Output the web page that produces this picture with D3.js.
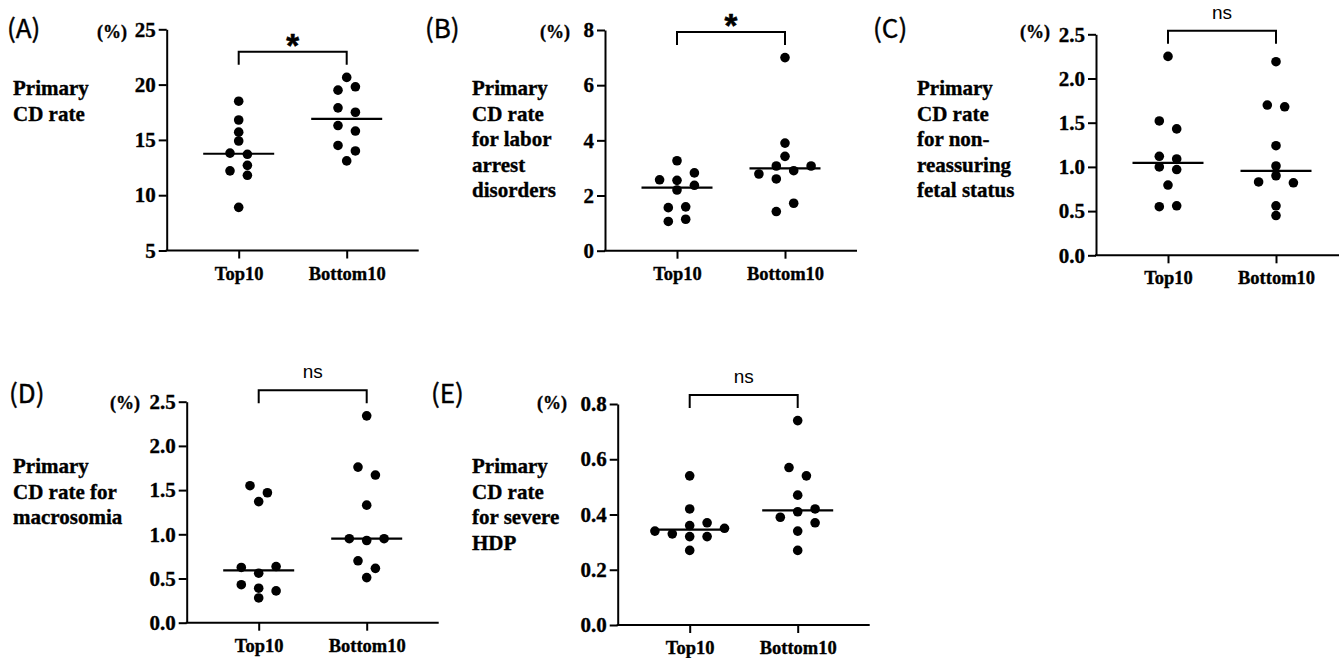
<!DOCTYPE html>
<html><head><meta charset="utf-8">
<script src="https://cdn.jsdelivr.net/npm/d3@7"></script>
<style>body{margin:0;background:#fff} svg{display:block}</style>
</head><body>
<svg id="chart" width="1339" height="658"></svg>
<script>
// ---------- data ----------
const categories = ["Top10", "Bottom10"];

const aTop    = [18.5, 16.8, 15.7, 14.9, 13.8, 13.7, 12.2, 12.7, 11.8, 8.9];
const aBottom = [20.65, 19.5, 19.8, 17.9, 17.5, 16.3, 15.8, 14.5, 14.0, 13.1];
const bTop    = [3.26, 2.55, 2.82, 2.57, 2.37, 2.2, 1.56, 1.59, 1.06, 1.14];
const bBottom = [7.0, 3.9, 3.42, 3.07, 2.9, 2.78, 3.07, 2.6, 1.42, 1.72];
const cTop    = [2.25, 1.52, 1.43, 1.12, 1.09, 1.0, 0.97, 0.795, 0.55, 0.56];
const cBottom = [2.19, 1.70, 1.68, 1.24, 1.01, 0.90, 0.82, 0.83, 0.56, 0.45];
const dTop    = [1.55, 1.47, 1.37, 0.56, 0.635, 0.625, 0.39, 0.36, 0.43, 0.28];
const dBottom = [2.34, 1.76, 1.67, 1.33, 0.93, 0.95, 0.95, 0.70, 0.615, 0.51];
const eTop    = [0.54, 0.42, 0.36, 0.37, 0.32, 0.32, 0.33, 0.35, 0.34, 0.27];
const eBottom = [0.74, 0.57, 0.54, 0.47, 0.41, 0.42, 0.34, 0.37, 0.39, 0.27];

const aTicks = [5, 10, 15, 20, 25];
const bTicks = [0, 2, 4, 6, 8];
const cTicks = [0, 0.5, 1.0, 1.5, 2.0, 2.5];
const dTicks = [0, 0.5, 1.0, 1.5, 2.0, 2.5];
const eTicks = [0, 0.2, 0.4, 0.6, 0.8];

const panelLetters = ["(A)", "(B)", "(C)", "(D)", "(E)"];
const yLabels = [
  ["Primary", "CD rate"],
  ["Primary", "CD rate", "for labor", "arrest", "disorders"],
  ["Primary", "CD rate", "for non-", "reassuring", "fetal status"],
  ["Primary", "CD rate for", "macrosomia"],
  ["Primary", "CD rate", "for severe", "HDP"]
];
const significance = ["*", "*", "ns", "ns", "ns"];
const unitLabel = "(%)";

// ---------- layout ----------
const panels = [
  {vals:[aTop,aBottom], ticks:aTicks, fmt:d3.format("d"),  domain:[5,25],  x0:166.7, yB:250.5, yT:29.3,
   letter:[7,38], label:[13,95], unit:[127,32]},
  {vals:[bTop,bBottom], ticks:bTicks, fmt:d3.format("d"),  domain:[0,8],   x0:605,   yB:250.7, yT:30,
   letter:[425,38], label:[472,95], unit:[570,32]},
  {vals:[cTop,cBottom], ticks:cTicks, fmt:d3.format(".1f"), domain:[0,2.5], x0:1096, yB:255.3, yT:34.3,
   letter:[873,38], label:[917,95], unit:[1050,32]},
  {vals:[dTop,dBottom], ticks:dTicks, fmt:d3.format(".1f"), domain:[0,2.5], x0:186.7, yB:622.7, yT:401.7,
   letter:[9,403], label:[13,473], unit:[140,403]},
  {vals:[eTop,eBottom], ticks:eTicks, fmt:d3.format(".1f"), domain:[0,0.8], x0:617.7, yB:625, yT:404,
   letter:[431,403], label:[472,473], unit:[567,403]}
];

const svg = d3.select("#chart");
const SERIF = "'Liberation Serif','Times New Roman',serif";
const SANS = "'Liberation Sans',Arial,sans-serif";
const SLOT = 17.4, DMIN = 8.6, R = 4.8, AXW = 252;
const TS = 0.35; // slight stroke to thicken text like the reference

function swarm(vals, y) {
  const placed = [];
  const cands = [0]; for (let i = 1; i < 10; i++) cands.push(i, -i);
  vals.forEach(v => {
    const py = y(v);
    for (const k of cands) {
      if (!placed.some(p => p.k === k && Math.abs(p.py - py) < DMIN)) { placed.push({v, py, k}); break; }
    }
  });
  const order = placed.slice().sort((a, b) => a.py - b.py);
  let comp = [order[0]]; const comps = [comp];
  for (let i = 1; i < order.length; i++) {
    if (order[i].py - order[i-1].py < DMIN) comp.push(order[i]);
    else { comp = [order[i]]; comps.push(comp); }
  }
  comps.forEach(c => {
    const s = (d3.min(c, p => p.k) + d3.max(c, p => p.k)) / 2;
    c.forEach(p => p.off = (p.k - s) * SLOT);
  });
  return placed;
}

function boldText(sel, size) {
  sel.attr("fill", "#000").attr("stroke", "#000").attr("stroke-width", TS)
    .style("font-family", SERIF).style("font-weight", "bold").style("font-size", size + "px");
}

panels.forEach((P, i) => {
  const g = svg.append("g");
  const x = d3.scalePoint().domain(categories).range([P.x0, P.x0 + AXW]).padding(2/3);
  const y = d3.scaleLinear().domain(P.domain).range([P.yB, P.yT]);

  const ya = g.append("g").attr("transform", `translate(${P.x0},0)`)
    .call(d3.axisLeft(y).tickValues(P.ticks).tickFormat(P.fmt).tickSize(8).tickSizeOuter(0).tickPadding(3));
  ya.select(".domain").attr("stroke", "#000").attr("stroke-width", 2);
  ya.selectAll(".tick line").attr("stroke", "#000").attr("stroke-width", 2);
  boldText(ya.selectAll(".tick text"), 21);

  const xa = g.append("g").attr("transform", `translate(0,${P.yB})`)
    .call(d3.axisBottom(x).tickSize(8).tickSizeOuter(0).tickPadding(8));
  xa.select(".domain").attr("stroke", "#000").attr("stroke-width", 2)
    .attr("d", `M${P.x0 - 1},0H${P.x0 + AXW}`);
  xa.selectAll(".tick line").attr("stroke", "#000").attr("stroke-width", 2);
  boldText(xa.selectAll(".tick text"), 18.5);

  // dots + medians
  P.vals.forEach((vals, j) => {
    const cx = x(categories[j]);
    const pts = swarm(vals, y);
    g.selectAll(null).data(pts).enter().append("circle")
      .attr("cx", d => cx + d.off).attr("cy", d => y(d.v)).attr("r", R).attr("fill", "#000");
    const med = d3.median(vals);
    g.append("line").attr("x1", cx - 35.5).attr("x2", cx + 35.5)
      .attr("y1", y(med)).attr("y2", y(med)).attr("stroke", "#000").attr("stroke-width", 2.2);
  });

  // significance bracket
  const allMax = d3.max(P.vals.flat());
  const yb = y(allMax) - 25.7;
  const xA = x(categories[0]), xB = x(categories[1]);
  g.append("path").attr("d", `M${xA},${yb + 13}V${yb}H${xB}V${yb + 13}`)
    .attr("fill", "none").attr("stroke", "#000").attr("stroke-width", 2);
  const sig = significance[i];
  if (sig === "*") {
    g.append("text").attr("x", (xA + xB) / 2).attr("y", yb + 5).attr("text-anchor", "middle")
      .attr("stroke", "#000").attr("stroke-width", 0.6)
      .style("font-family", SANS).style("font-weight", "bold").style("font-size", "33px").text(sig);
  } else {
    g.append("text").attr("x", (xA + xB) / 2).attr("y", yb - 12).attr("text-anchor", "middle")
      .style("font-family", SANS).style("font-size", "19px").text(sig);
  }

  // unit label
  boldText(g.append("text").attr("x", P.unit[0]).attr("y", P.unit[1]).attr("dy", "0.35em")
    .attr("text-anchor", "end").text(unitLabel), 18);

  // panel letter
  g.append("text").attr("x", P.letter[0]).attr("y", P.letter[1])
    .attr("stroke", "#000").attr("stroke-width", 0.4)
    .style("font-family", "'Noto Sans CJK JP','Noto Sans',sans-serif").style("font-size", "26px")
    .text(panelLetters[i]);

  // y label
  const t = g.append("text").attr("x", P.label[0]).attr("y", P.label[1]);
  boldText(t, 21);
  yLabels[i].forEach((line, k) => {
    t.append("tspan").attr("x", P.label[0]).attr("y", P.label[1] + k * 25.5).text(line);
  });
});
</script>
</body></html>
